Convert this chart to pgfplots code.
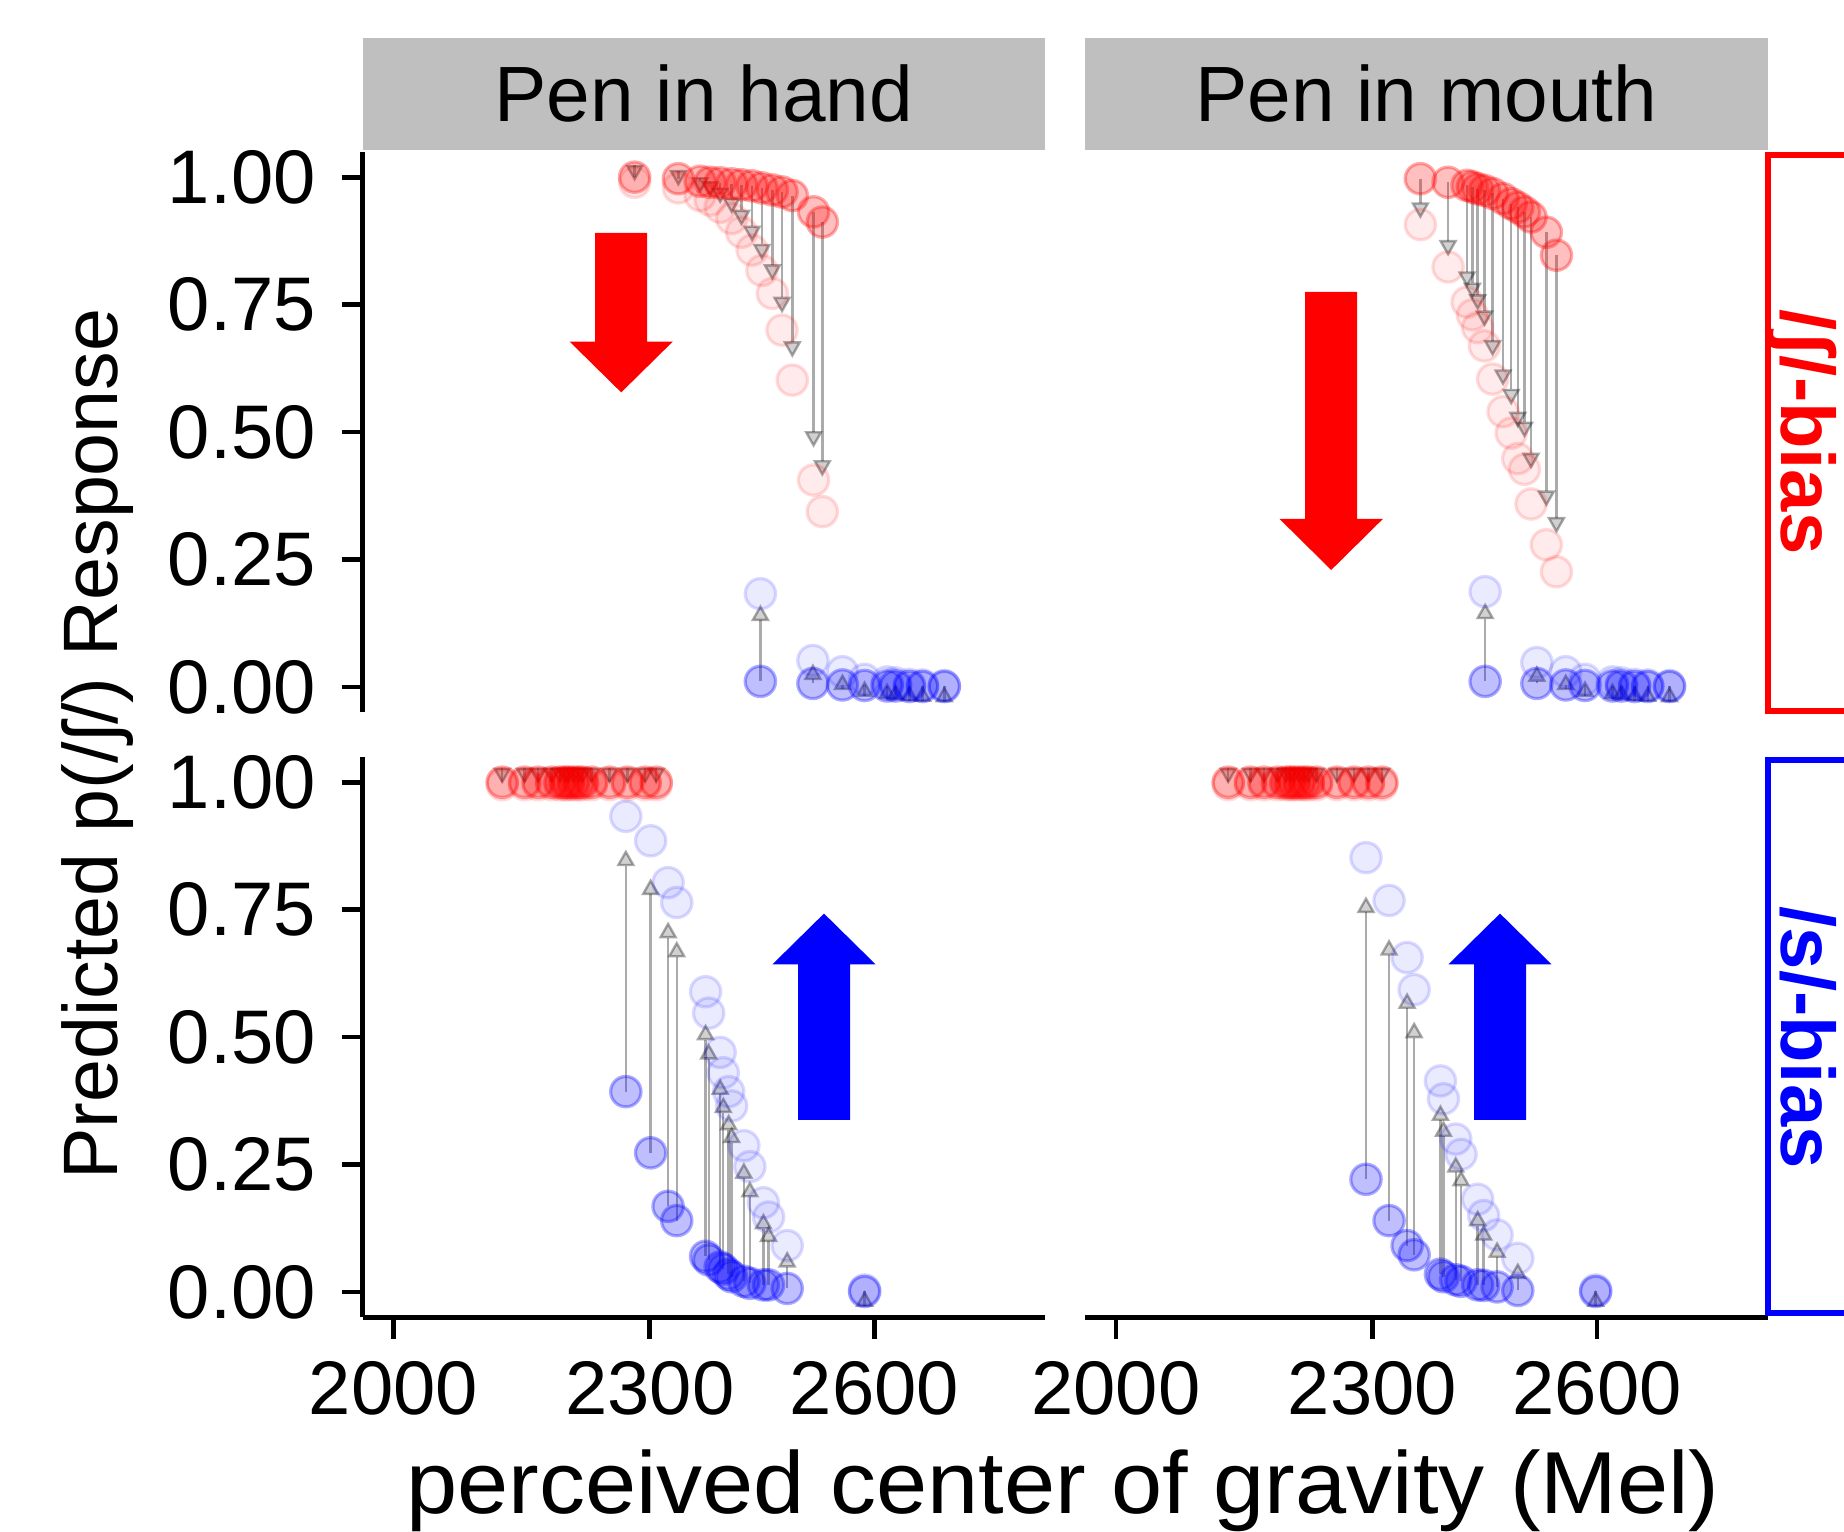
\documentclass[border=0pt]{standalone}
\usepackage{fontspec}
\setmainfont{Liberation Sans}
\usepackage{pgfplots}
\pgfplotsset{compat=1.18}
\usepackage{pgfplotstable}
\usetikzlibrary{arrows.meta}

\definecolor{stripgray}{RGB}{191,191,191}

% Pen in hand, /S/-bias
\pgfplotstableread{
x y0 y1
2281 1.000 0.990
2336 0.997 0.979
2364 0.992 0.964
2377 0.990 0.955
2390 0.989 0.941
2405 0.987 0.919
2418 0.985 0.892
2432 0.983 0.857
2445 0.979 0.817
2459 0.975 0.772
2472 0.971 0.700
2486 0.964 0.602
2515 0.932 0.406
2527 0.912 0.344
}\tlred
\pgfplotstableread{
x y0 y1
2443 0.011 0.183
2514 0.007 0.052
2555 0.004 0.030
2586 0.003 0.015
2618 0.002 0.010
2630 0.002 0.008
2650 0.001 0.005
2669 0.001 0.004
2701 0.001 0.003
}\tlblue
% Pen in mouth, /S/-bias
\pgfplotstableread{
x y0 y1
2361 0.997 0.907
2397 0.990 0.824
2422 0.984 0.755
2429 0.981 0.730
2436 0.977 0.705
2445 0.974 0.669
2456 0.968 0.604
2470 0.958 0.540
2481 0.948 0.498
2490 0.941 0.448
2499 0.932 0.427
2508 0.922 0.359
2529 0.892 0.279
2543 0.847 0.226
}\trred
\pgfplotstableread{
x y0 y1
2446 0.011 0.187
2516 0.007 0.048
2556 0.004 0.030
2583 0.003 0.015
2622 0.002 0.010
2635 0.002 0.008
2654 0.001 0.005
2673 0.001 0.004
2705 0.001 0.003
}\trblue
% Pen in hand, /s/-bias
\pgfplotstableread{
x y0 y1
2122 1.000 0.995
2148 1.000 0.995
2164 1.000 0.995
2180 1.000 0.995
2190 1.000 0.995
2196 1.000 0.995
2200 1.000 0.995
2206 1.000 0.995
2212 1.000 0.995
2217 1.000 0.995
2228 1.000 0.995
2250 1.000 0.995
2272 1.000 0.995
2294 1.000 0.995
2308 1.000 0.995
}\blred
\pgfplotstableread{
x y0 y1
2270 0.393 0.933
2301 0.273 0.885
2323 0.168 0.803
2334 0.140 0.764
2371 0.070 0.589
2375 0.063 0.547
2390 0.049 0.470
2394 0.045 0.430
2401 0.035 0.393
2405 0.030 0.365
2421 0.021 0.287
2429 0.017 0.246
2447 0.014 0.175
2454 0.014 0.147
2479 0.007 0.091
2586 0.001 0.004
}\blblue
% Pen in mouth, /s/-bias
\pgfplotstableread{
x y0 y1
2126 1.000 0.995
2152 1.000 0.995
2168 1.000 0.995
2184 1.000 0.995
2194 1.000 0.995
2199 1.000 0.995
2204 1.000 0.995
2210 1.000 0.995
2216 1.000 0.995
2221 1.000 0.995
2231 1.000 0.995
2256 1.000 0.995
2277 1.000 0.995
2295 1.000 0.995
2312 1.000 0.995
}\brred
\pgfplotstableread{
x y0 y1
2292 0.221 0.852
2321 0.140 0.768
2344 0.091 0.656
2353 0.073 0.593
2387 0.035 0.414
2391 0.030 0.379
2407 0.024 0.300
2414 0.021 0.270
2436 0.014 0.182
2444 0.013 0.150
2462 0.010 0.112
2490 0.003 0.066
2598 0.001 0.004
}\brblue

\pgfplotsset{
  x coord trafo/.code={\pgfmathparse{log10(#1)}},
  x coord inv trafo/.code={\pgfmathparse{10^(#1)}},
}
\pgfplotsset{
  every axis/.append style={
    scale only axis, width=170.625bp, height=140.2bp,
    anchor=south west,
    xmin=1966.3, xmax=2853.6, ymin=-0.05, ymax=1.05,
    clip=false,
    axis lines=left,
    axis line style={-, line width=1.4bp, black},
    tick align=outside, major tick length=5.25bp,
    tick style={black, line width=1.2bp},
    xtick={2000,2300,2600}, xticklabels={2000,2300,2600},
    minor xtick={}, minor ytick={},
    ytick={0,0.25,0.5,0.75,1}, yticklabels={0.00,0.25,0.50,0.75,1.00},
    tick label style={font=\fontsize{19bp}{22bp}\selectfont, inner sep=0pt},
    xticklabel shift=5.5bp, yticklabel shift=6.25bp,
  },
}

\newcommand{\grp}[2]{%
  \addplot[only marks, mark=*, mark size=3.8bp,
    mark options={draw=#2, fill=#2, fill opacity=0.08, draw opacity=0.14, line width=0.8bp}]
    table[x=x, y=y1]{#1};
  \addplot[only marks, mark=*, mark size=3.8bp,
    mark options={draw=#2, fill=#2, fill opacity=0.25, draw opacity=0.33, line width=0.8bp}]
    table[x=x, y=y0]{#1};
}
\newcommand{\arr}[1]{%
  \addplot[black, opacity=0.33, line width=0.6bp,
    -{Triangle[length=4.2bp, width=4.6bp, fill=black!55]},
    quiver={u=0, v=\thisrow{y1}-\thisrow{y0}, scale arrows=0.88}]
    table[x=x, y=y0]{#1};
}

\begin{document}
\begin{tikzpicture}
\path[use as bounding box] (0,0) rectangle (461bp,383bp);

% strips
\fill[stripgray] (90.625bp,345.4bp) rectangle (261.25bp,373.6bp);
\fill[stripgray] (271.25bp,345.4bp) rectangle (441.875bp,373.6bp);
\node[anchor=base, inner sep=0, font=\fontsize{19.6bp}{22bp}\selectfont] at (175.94bp,352.7bp) {Pen in hand};
\node[anchor=base, inner sep=0, font=\fontsize{19.6bp}{22bp}\selectfont] at (356.56bp,352.7bp) {Pen in mouth};

% top-left
\begin{axis}[at={(90.625bp,204.875bp)},
  x axis line style={draw=none}, xtick=\empty]
  \grp{\tlred}{red}
  \grp{\tlblue}{blue}
  \arr{\tlred}
  \arr{\tlblue}
\end{axis}
% top-right
\begin{axis}[at={(271.25bp,204.875bp)},
  axis line style={draw=none}, xtick=\empty, ytick=\empty]
  \grp{\trred}{red}
  \grp{\trblue}{blue}
  \arr{\trred}
  \arr{\trblue}
\end{axis}
% bottom-left
\begin{axis}[at={(90.625bp,53.625bp)}]
  \grp{\blred}{red}
  \grp{\blblue}{blue}
  \arr{\blred}
  \arr{\blblue}
\end{axis}
% bottom-right
\begin{axis}[at={(271.25bp,53.625bp)},
  y axis line style={draw=none}, ytick=\empty]
  \grp{\brred}{red}
  \grp{\brblue}{blue}
  \arr{\brred}
  \arr{\brblue}
\end{axis}

% big direction arrows
\fill[red] (148.8bp,324.75bp) -- (161.8bp,324.75bp) -- (161.8bp,297.6bp) -- (168.2bp,297.6bp)
  -- (155.3bp,284.9bp) -- (142.4bp,297.6bp) -- (148.8bp,297.6bp) -- cycle;
\fill[red] (326.3bp,310bp) -- (339.3bp,310bp) -- (339.3bp,253.25bp) -- (345.7bp,253.25bp)
  -- (332.8bp,240.5bp) -- (319.9bp,253.25bp) -- (326.3bp,253.25bp) -- cycle;
\fill[blue] (199.5bp,103bp) -- (212.5bp,103bp) -- (212.5bp,141.9bp) -- (218.9bp,141.9bp)
  -- (206bp,154.6bp) -- (193.1bp,141.9bp) -- (199.5bp,141.9bp) -- cycle;
\fill[blue] (368.5bp,103bp) -- (381.5bp,103bp) -- (381.5bp,141.9bp) -- (387.9bp,141.9bp)
  -- (375bp,154.6bp) -- (362.1bp,141.9bp) -- (368.5bp,141.9bp) -- cycle;

% right strips
\draw[red, line width=1.5bp] (442bp,205.25bp) rectangle (463bp,344.25bp);
\draw[blue, line width=1.5bp] (442bp,54.75bp) rectangle (463bp,193bp);
\node[rotate=-90, anchor=base, inner sep=0, text=red, font=\bfseries\fontsize{19bp}{22bp}\selectfont] at (445.25bp,275bp) {/ʃ/-bias};
\node[rotate=-90, anchor=base, inner sep=0, text=blue, font=\bfseries\fontsize{19bp}{22bp}\selectfont] at (445.25bp,123.6bp) {/s/-bias};

% axis titles
\node[rotate=90, anchor=base, inner sep=0, font=\fontsize{19.3bp}{24bp}\selectfont] at (29.4bp,197bp) {Predicted p(/ʃ/) Response};
\node[anchor=base, inner sep=0, font=\fontsize{22bp}{26bp}\selectfont] at (265.75bp,4.75bp) {\scalebox{1.045}[1]{perceived center of gravity (Mel)}};
\end{tikzpicture}
\end{document}
